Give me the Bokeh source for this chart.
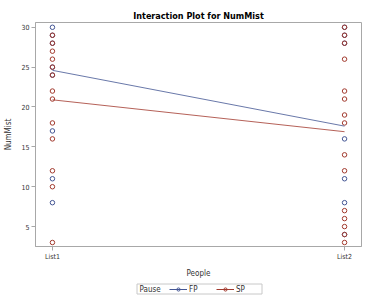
from bokeh.plotting import figure
from bokeh.layouts import column
from bokeh.models import FactorRange, Range1d, Legend, LegendItem, FixedTicker
from bokeh.core.properties import value
from bokeh.embed import file_html
from bokeh.resources import INLINE

# Categories and observed values of NumMist for each pause type
people = ["List1", "List2"]
fp_list1 = [30, 29, 28, 25, 24, 17, 11, 8]
sp_list1 = [29, 28, 27, 26, 25, 24, 22, 21, 18, 16, 12, 10, 3]
fp_list2 = [30, 29, 28, 16, 11, 8, 4]
sp_list2 = [30, 29, 28, 26, 22, 21, 19, 18, 14, 12, 7, 6, 5, 4, 3]

# Cell means joined by the interaction lines
fp_mean = [24.6, 17.6]
sp_mean = [20.9, 16.9]

y_ticks = [5, 10, 15, 20, 25, 30]
groups = ["FP", "SP"]

FP_COLOR = "#445694"
SP_COLOR = "#A23A2E"
FONT = "DejaVu Sans Condensed"
AXIS_GREY = "#A8A8A8"
TEXT_GREY = "#333333"

W, H_MAIN, H_KEY = 367, 280, 24
LEFT, RIGHT = 35, 6

p = figure(
    width=W, height=H_MAIN,
    x_range=FactorRange(factors=people, range_padding=-0.442, range_padding_units="absolute"),
    y_range=Range1d(2.5, 30.6),
    output_backend="svg", toolbar_location=None,
    title="Interaction Plot for NumMist",
    min_border_left=LEFT, min_border_right=RIGHT, min_border_top=22, min_border_bottom=32,
)

p.title.align = "center"
p.title.text_font = FONT
p.title.text_font_size = "9px"
p.title.text_font_style = "bold"
p.title.text_color = "#000000"
p.title.standoff = 4

p.xgrid.visible = False
p.ygrid.visible = False
p.outline_line_color = AXIS_GREY

for ax in (p.xaxis[0], p.yaxis[0]):
    ax.axis_line_color = AXIS_GREY
    ax.major_tick_line_color = AXIS_GREY
    ax.minor_tick_line_color = None
    ax.major_tick_in = 0
    ax.major_tick_out = 4
    ax.major_label_text_font = FONT
    ax.major_label_text_font_size = "7px"
    ax.major_label_text_color = TEXT_GREY
    ax.axis_label_text_font = FONT
    ax.axis_label_text_font_size = "8px"
    ax.axis_label_text_font_style = "normal"
    ax.axis_label_text_color = TEXT_GREY
    ax.major_label_standoff = 2
    ax.axis_label_standoff = 5

p.yaxis.ticker = FixedTicker(ticks=y_ticks)
p.xaxis.axis_label = "People"
p.yaxis.axis_label = "NumMist"

# Raw observations as open circles
fp_x = ["List1"] * len(fp_list1) + ["List2"] * len(fp_list2)
fp_y = fp_list1 + fp_list2
sp_x = ["List1"] * len(sp_list1) + ["List2"] * len(sp_list2)
sp_y = sp_list1 + sp_list2

p.scatter(fp_x, fp_y, marker="circle", size=4.5, fill_color=None,
          line_color=FP_COLOR, line_width=1)
p.scatter(sp_x, sp_y, marker="circle", size=4.5, fill_color=None,
          line_color=SP_COLOR, line_width=1)

# Interaction lines through the cell means
p.line(people, fp_mean, line_color=FP_COLOR, line_width=1, line_alpha=0.8)
p.line(people, sp_mean, line_color=SP_COLOR, line_width=1, line_alpha=0.8)

# Legend strip below; its frame lines up with the main frame, so the x range
# is set to the frame's pixel span to keep data units equal to page pixels
leg = figure(
    width=W, height=H_KEY, x_range=Range1d(LEFT, W - RIGHT), y_range=Range1d(0, H_KEY),
    output_backend="svg", toolbar_location=None,
    x_axis_location=None, y_axis_location=None,
    min_border=0, outline_line_color=None,
)
leg.xgrid.visible = False
leg.ygrid.visible = False

# Frame of the legend box and its group title
leg.quad(left=[136.5], right=[261.5], bottom=[10.5], top=[20.5],
         fill_color=None, line_color="#C8C8C8", line_width=1)
leg.text(x=[139], y=[15.5], text=["Pause"], text_font=value(FONT),
         text_font_size="8px", text_color=TEXT_GREY, text_baseline="middle")

# Key glyphs: line with an open circle, parked outside the visible strip
items = []
for name, color in zip(groups, [FP_COLOR, SP_COLOR]):
    ln = leg.line(x=[-60, -50], y=[5, 5], line_color=color, line_width=1)
    mk = leg.scatter(x=[-55], y=[5], marker="circle", size=4.5, fill_color=None,
                     line_color=color, line_width=1)
    items.append(LegendItem(label=name, renderers=[ln, mk]))

legend = Legend(items=items, orientation="horizontal", location=(169 - LEFT, 10.5))
legend.label_text_font = FONT
legend.label_text_font_size = "8px"
legend.label_text_color = TEXT_GREY
legend.border_line_color = None
legend.background_fill_alpha = 0
legend.glyph_width = 18
legend.glyph_height = 8
legend.label_height = 8
legend.label_standoff = 2
legend.spacing = 7
legend.padding = 1
legend.margin = 0
leg.add_layout(legend, "center")

open("out.html", "w").write(file_html(column(p, leg, spacing=0), INLINE))
